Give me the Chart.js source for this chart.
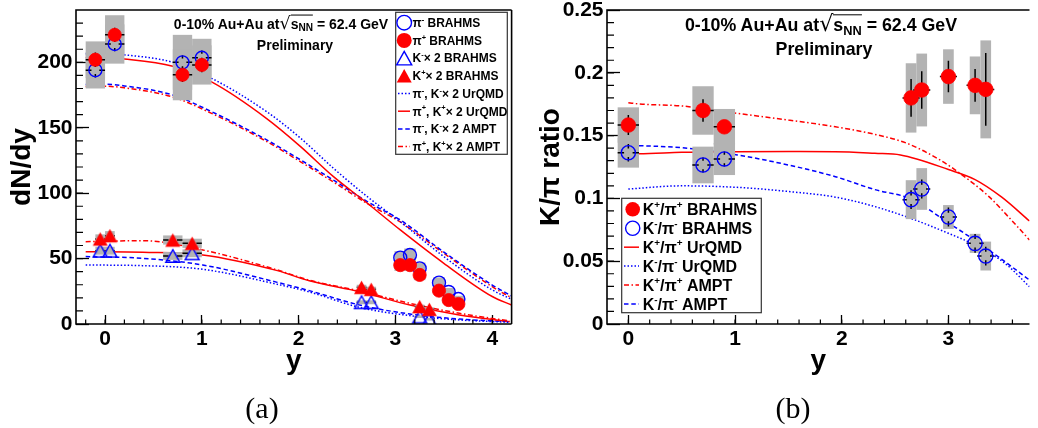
<!DOCTYPE html>
<html>
<head>
<meta charset="utf-8">
<title>BRAHMS dN/dy and K/pi</title>
<script src="https://cdn.jsdelivr.net/npm/chart.js@4.4.1/dist/chart.umd.min.js"></script>
<style>
 html,body{margin:0;padding:0;width:1038px;height:428px;overflow:hidden;background:#fff;}
 canvas{position:absolute;top:0;}
 #ca{left:0;} #cb{left:520px;}
 .t{position:absolute;transform:translate(-50%,-50%);white-space:nowrap;font-family:"Liberation Sans",Arial,Helvetica,sans-serif;font-weight:bold;line-height:1;color:#000;}
 .rad{font-family:"DejaVu Sans",sans-serif;font-weight:normal;font-size:1.25em;}
 .ov{border-top:1.5px solid #000;}
 .sb{font-size:0.72em;vertical-align:-0.28em;}
 .cap{position:absolute;transform:translate(-50%,-50%);font-family:"Liberation Serif","Times New Roman",serif;font-size:30px;line-height:1;color:#000;}
</style>
</head>
<body>
<canvas id="ca" width="520" height="428"></canvas>
<canvas id="cb" width="518" height="428"></canvas>
<div class="t" style="left:281px;top:24px;font-size:14px">0-10% Au+Au at<span class="rad">√</span><span class="ov">s<span class="sb">NN</span></span> = 62.4 GeV</div>
<div class="t" style="left:295px;top:45px;font-size:14px">Preliminary</div>
<div class="t" style="left:821px;top:25px;font-size:17.8px">0-10% Au+Au at<span class="rad">√</span><span class="ov">s<span class="sb">NN</span></span> = 62.4 GeV</div>
<div class="t" style="left:824px;top:50px;font-size:17.8px">Preliminary</div>
<div class="cap" style="left:262px;top:408px">(a)</div>
<div class="cap" style="left:793px;top:408px">(b)</div>
<script>
// ================= DATA: panel (a) dN/dy =================
const xTicksA = [0, 1, 2, 3, 4];
const yTicksA = [0, 50, 100, 150, 200];

const piRap      = [-0.1, 0.1, 0.8, 1.0, 3.05, 3.15, 3.25, 3.45, 3.55, 3.65];
const piMinusV   = [194, 214, 200, 203.5, 50.7, 52.7, 42.5, 31.6, 24.5, 19.1];
const piPlusV    = [202, 221, 190.5, 198, 45, 45, 37.5, 25.5, 18.3, 15.3];
const piStat     = [5.5, 5.5, 5.5, 5.5, 2, 2, 2, 2, 2, 2];
const piMinusSys = [14, 15, 21, 14.5, 5, 5, 4.5, 4, 3, 2.5];
const piPlusSys  = [14, 15, 19.5, 15, 4.5, 4.5, 4, 3, 2.5, 2];
const piEx       = [0.1, 0.1, 0.1, 0.1, 0.04, 0.04, 0.04, 0.04, 0.04, 0.04];
const piBoxW     = [0.1, 0.1, 0.1, 0.1, 0.06, 0.06, 0.06, 0.06, 0.06, 0.06];

const kRap       = [-0.05, 0.05, 0.7, 0.9, 2.65, 2.75, 3.25, 3.35];
const kMinus2V   = [56, 56, 52, 54, 16.6, 16.6, 5.6, 3.6];
const kPlus2V    = [65, 67.5, 64.2, 61.7, 28, 26.5, 13.3, 11.2];
const kStat      = [1.5, 1.5, 1.5, 1.5, 1, 1, 1, 1];
const kMinusSys  = [3, 3, 3, 3, 1.5, 1.5, 1, 1];
const kPlusSys   = [3.5, 3.5, 3.5, 3.5, 2, 2, 1.5, 1.5];
const kEx        = [0.05, 0.05, 0.1, 0.1, 0.05, 0.05, 0.05, 0.05];
const kBoxW      = [0.05, 0.05, 0.1, 0.1, 0.05, 0.05, 0.05, 0.05];

// model curves, pions
const piCurveRap     = [-0.2, 0, 0.2, 0.7, 1.1, 1.67, 2.02, 2.36, 2.71, 3.05, 3.5, 4.0, 4.2];
const piMinusUrqmd   = [206.5, 206.5, 205.7, 200, 187.8, 162.3, 142, 119, 97.3, 78.2, 51.5, 26, 18.9];
const piPlusUrqmd    = [203.5, 203.5, 202.6, 197, 185, 157, 135.6, 112.6, 92.3, 71.9, 46.4, 21, 14.5];
const piMinusAmpt    = [183, 183.2, 182, 175, 162.3, 140.7, 125.4, 110, 93.5, 79.5, 55, 29.8, 21.4];
const piPlusAmpt     = [181.5, 181.7, 180.5, 173.5, 161, 139.5, 124, 108.5, 92, 78, 54, 28.5, 20];
// model curves, kaons x 2
const kCurveRap      = [-0.2, 0.39, 1.01, 1.77, 2.11, 2.63, 3.15, 3.66, 4.18];
const kPlusAmpt      = [62.9, 63.7, 56.6, 41.5, 33.5, 25.2, 15.8, 8.2, 2.3];
const kPlusUrqmd     = [55.3, 54.8, 52.8, 41.0, 33.0, 24.7, 14.5, 6.9, 1.8];
const kMinusAmpt     = [51.5, 50.2, 45.1, 32.0, 25.5, 14.5, 7.6, 3.8, 1.8];
const kMinusUrqmd    = [45.1, 44.6, 41.8, 30.5, 24.5, 12.7, 6.4, 3.1, 1.3];

// ================= DATA: panel (b) K/pi =================
const xTicksB = [0, 1, 2, 3];
const yTicksB = [0, 0.05, 0.1, 0.15, 0.2, 0.25];

const rRap       = [0, 0.7, 0.9, 2.65, 2.75, 3.0, 3.25, 3.35];
const kpPiP      = [0.1584, 0.170, 0.157, 0.180, 0.1863, 0.197, 0.190, 0.1868];
const kpPiPStat  = [0.008, 0.009, 0.004, 0.015, 0.015, 0.0125, 0.013, 0.029];
const kpPiPSys   = [0.0141, 0.0193, 0.0142, 0.0276, 0.029, 0.0217, 0.023, 0.039];
const kmPiM      = [0.1364, 0.1266, 0.1314, 0.099, 0.1075, 0.0852, 0.0642, 0.0541];
const kmPiMStat  = [0.007, 0.006, 0.006, 0.0075, 0.0075, 0.0075, 0.0075, 0.0075];
const kmPiMSys   = [0.0119, 0.0146, 0.0128, 0.0155, 0.0166, 0.0095, 0.0076, 0.0115];
const rEx        = [0.1, 0.1, 0.1, 0.08, 0.08, 0.08, 0.08, 0.08];
const rBoxW      = [0.1, 0.1, 0.1, 0.05, 0.05, 0.05, 0.05, 0.05];

const kpUrqmdRap = [0, 0.1, 0.5, 1.02, 1.5, 1.94, 2.31, 2.55, 3.0, 3.25, 3.5, 3.76];
const kpUrqmd    = [0.1355, 0.1355, 0.1367, 0.1372, 0.1373, 0.1372, 0.1359, 0.1346, 0.123, 0.115, 0.101, 0.082];
const kpAmptRap  = [0, 0.1, 0.5, 1.02, 1.5, 1.94, 2.31, 2.61, 2.92, 3.13, 3.38, 3.59, 3.76];
const kpAmpt     = [0.1762, 0.1752, 0.1736, 0.1677, 0.1624, 0.157, 0.151, 0.1439, 0.1306, 0.1186, 0.1014, 0.0828, 0.0669];
const kmAmptRap  = [0.1, 0.5, 1.02, 1.5, 1.94, 2.31, 2.65, 3.0, 3.25, 3.5, 3.76];
const kmAmpt     = [0.142, 0.1404, 0.1346, 0.1266, 0.1173, 0.107, 0.0995, 0.0805, 0.0665, 0.0515, 0.035];
const kmUrqmdRap = [0, 0.5, 1.02, 1.5, 1.94, 2.31, 2.65, 3.0, 3.25, 3.53, 3.76];
const kmUrqmd    = [0.1075, 0.110, 0.1088, 0.1055, 0.101, 0.0935, 0.084, 0.0722, 0.0629, 0.0483, 0.0297];

// ================= STYLE =================
const FONT = '"Liberation Sans", Arial, Helvetica, sans-serif';
const BLUE = '#0000ff', RED = '#ff0000', GRAY = '#b3b3b3';
const DOT = [1.5, 2], DASH = [4.5, 2.8], DASHDOT = [5, 2.5, 1.5, 2.5];

const pts = (xs, vs) => xs.map((x, i) => ({x: x, y: vs[i]}));

// triangle marker image, bounding box centred on the point (ROOT style)
function triImage(w, filled, color) {
  const h = w * 0.9, pad = 2;
  const c = document.createElement('canvas');
  c.width = Math.ceil(w + pad * 2); c.height = Math.ceil(w + pad * 2);
  const g = c.getContext('2d');
  const cx = c.width / 2, cy = c.height / 2;
  g.beginPath();
  g.moveTo(cx, cy - h / 2); g.lineTo(cx + w / 2, cy + h / 2); g.lineTo(cx - w / 2, cy + h / 2); g.closePath();
  if (filled) { g.fillStyle = color; g.fill(); }
  else { g.strokeStyle = color; g.lineWidth = 1.4; g.stroke(); }
  return c;
}
const triOpenBlue = triImage(14, false, BLUE);
const triFillRed = triImage(15, true, RED);

function curve(label, xs, vs, color, dash, order) {
  return {label, data: pts(xs, vs), showLine: true, borderColor: color, backgroundColor: color,
    borderWidth: 1.5, borderDash: dash, pointRadius: 0, fill: false,
    cubicInterpolationMode: 'monotone', order};
}
function markers(label, xs, vs, style, filled, color, r, ex, ey, sys, bw, order) {
  return {label, data: pts(xs, vs), showLine: false, pointStyle: style, pointRadius: r,
    backgroundColor: filled ? color : 'rgba(0,0,0,0)', borderColor: color,
    borderWidth: filled ? 0.8 : 1.4, isMarker: true, ex, ey, sys, bw, order};
}

// ---------- plugins ----------
const boxesAndErrors = {
  id: 'boxesAndErrors',
  beforeDatasetsDraw(chart) { chart.$done = false; },
  beforeDatasetDraw(chart, args) {
    const ds = chart.data.datasets[args.index];
    if (!ds.isMarker || chart.$done) return;
    chart.$done = true;
    const {ctx, chartArea: a} = chart;
    const X = chart.scales.x, Y = chart.scales.y;
    ctx.save();
    ctx.beginPath(); ctx.rect(a.left, a.top, a.right - a.left, a.bottom - a.top); ctx.clip();
    ctx.fillStyle = GRAY;
    chart.data.datasets.forEach(d => {
      if (!d.isMarker) return;
      d.data.forEach((p, i) => {
        const x0 = X.getPixelForValue(p.x - d.bw[i]), x1 = X.getPixelForValue(p.x + d.bw[i]);
        const y0 = Y.getPixelForValue(p.y + d.sys[i]), y1 = Y.getPixelForValue(p.y - d.sys[i]);
        ctx.fillRect(x0, y0, x1 - x0, y1 - y0);
      });
    });
    ctx.strokeStyle = '#000'; ctx.lineWidth = 1.5;
    chart.data.datasets.forEach(d => {
      if (!d.isMarker) return;
      const gap = d.pointRadius * 0.6;
      d.data.forEach((p, i) => {
        const cx = X.getPixelForValue(p.x), cy = Y.getPixelForValue(p.y);
        const xl = X.getPixelForValue(p.x - d.ex[i]), xr = X.getPixelForValue(p.x + d.ex[i]);
        const yt = Y.getPixelForValue(p.y + d.ey[i]), yb = Y.getPixelForValue(p.y - d.ey[i]);
        ctx.beginPath();
        if (cx - xl > gap) { ctx.moveTo(xl, cy); ctx.lineTo(cx - gap, cy); ctx.moveTo(cx + gap, cy); ctx.lineTo(xr, cy); }
        if (yb - cy > gap) { ctx.moveTo(cx, yt); ctx.lineTo(cx, cy - gap); ctx.moveTo(cx, cy + gap); ctx.lineTo(cx, yb); }
        ctx.stroke();
      });
    });
    ctx.restore();
  }
};

function drawRich(ctx, x, yMid, segs, size) {
  let cx = x;
  const base = yMid + size * 0.36;
  ctx.textAlign = 'left'; ctx.textBaseline = 'alphabetic'; ctx.fillStyle = '#000';
  segs.forEach(s => {
    const sup = s[1] === 1;
    const fs = sup ? size * 0.62 : size;
    ctx.font = 'bold ' + fs + 'px ' + FONT;
    ctx.fillText(s[0], cx, sup ? base - size * 0.42 : base);
    cx += ctx.measureText(s[0]).width;
  });
}

function drawMarker(ctx, style, filled, color, x, y, r) {
  ctx.save();
  ctx.beginPath();
  if (style === 'circle') ctx.arc(x, y, r, 0, Math.PI * 2);
  else { const w = 2 * r, h = w * 0.9; ctx.moveTo(x, y - h / 2); ctx.lineTo(x + w / 2, y + h / 2); ctx.lineTo(x - w / 2, y + h / 2); ctx.closePath(); }
  if (filled) { ctx.fillStyle = color; ctx.fill(); }
  else { ctx.strokeStyle = color; ctx.lineWidth = 1.4; ctx.stroke(); }
  ctx.restore();
}

function framePlugin(drawRight, minorX, minorY, legend) {
  return {
    id: 'frame',
    afterDraw(chart) {
      const {ctx, chartArea: a} = chart;
      const X = chart.scales.x, Y = chart.scales.y;
      ctx.save();
      // minor ticks
      ctx.strokeStyle = '#000'; ctx.lineWidth = 1.2;
      ctx.beginPath();
      minorX.forEach(v => { const px = X.getPixelForValue(v); if (px > a.left + 1 && px < a.right - 1) { ctx.moveTo(px, a.bottom); ctx.lineTo(px, a.bottom - 4.5); } });
      minorY.forEach(v => { const py = Y.getPixelForValue(v); if (py > a.top + 1 && py < a.bottom - 1) { ctx.moveTo(a.left, py); ctx.lineTo(a.left + 7, py); } });
      ctx.stroke();
      // frame
      ctx.lineWidth = 1.6;
      ctx.beginPath();
      ctx.moveTo(a.right, a.top); ctx.lineTo(a.left, a.top); ctx.lineTo(a.left, a.bottom); ctx.lineTo(a.right, a.bottom);
      if (drawRight) { ctx.moveTo(a.right, a.top); ctx.lineTo(a.right, a.bottom); }
      ctx.stroke();
      // legend
      const L = legend;
      ctx.fillStyle = '#fff';
      ctx.fillRect(L.x, L.y, L.w, L.h);
      ctx.strokeStyle = '#333'; ctx.lineWidth = 1.2;
      ctx.strokeRect(L.x, L.y, L.w, L.h);
      L.entries.forEach((e, i) => {
        const yy = L.row0 + i * L.dy;
        if (e.line) {
          ctx.save();
          ctx.strokeStyle = e.color; ctx.lineWidth = 1.5; ctx.setLineDash(e.dash);
          ctx.beginPath(); ctx.moveTo(L.lx0, yy); ctx.lineTo(L.lx1, yy); ctx.stroke();
          ctx.restore();
        } else {
          drawMarker(ctx, e.mk, e.filled, e.color, L.mx, yy, e.r);
        }
        drawRich(ctx, L.tx, yy, e.text, L.font);
      });
      ctx.restore();
    }
  };
}

function xAxis(min, max, majors, fitH) {
  return {
    type: 'linear', min, max,
    afterBuildTicks: s => { s.ticks = majors.map(v => ({value: v})); },
    afterFit: s => { s.height = fitH; s.paddingLeft = 0; s.paddingRight = 0; },
    ticks: {color: '#000', font: {family: FONT, size: 21, weight: 'bold'}, padding: 11.4, maxRotation: 0, autoSkip: false, callback: v => String(v)},
    grid: {drawOnChartArea: false, tickLength: -9, tickColor: '#000', tickWidth: 1.3},
    border: {display: false},
    title: {display: true, text: 'y', color: '#000', font: {family: FONT, size: 28, weight: 'bold'}, padding: {top: 0, bottom: 50}}
  };
}
function yAxis(min, max, majors, fitW, title, titlePad) {
  return {
    type: 'linear', min, max,
    afterBuildTicks: s => { s.ticks = majors.map(v => ({value: v})); },
    afterFit: s => { s.width = fitW; s.paddingTop = 0; s.paddingBottom = 0; },
    ticks: {color: '#000', font: {family: FONT, size: 21, weight: 'bold'}, padding: 16.5, autoSkip: false, callback: v => String(v)},
    grid: {drawOnChartArea: false, tickLength: -13, tickColor: '#000', tickWidth: 1.3},
    border: {display: false},
    title: {display: true, text: title, color: '#000', font: {family: FONT, size: 28, weight: 'bold'}, padding: {top: titlePad, bottom: 0}}
  };
}

function steps(a, b, s) { const r = []; for (let v = a; v <= b + 1e-9; v += s) r.push(Math.round(v * 1000) / 1000); return r; }

// ================= Chart (a) =================
const legendA = {
  x: 395.7, y: 12.3, w: 111.6, h: 142, row0: 22.7, dy: 17.7, mx: 404.2, tx: 412.5, lx0: 398, lx1: 410, font: 12,
  entries: [
    {mk: 'circle', filled: false, color: BLUE, r: 7.3, text: [['π'], ['-', 1], [' BRAHMS']]},
    {mk: 'circle', filled: true, color: RED, r: 7.5, text: [['π'], ['+', 1], [' BRAHMS']]},
    {mk: 'triangle', filled: false, color: BLUE, r: 7.5, text: [['K'], ['-', 1], ['× 2 BRAHMS']]},
    {mk: 'triangle', filled: true, color: RED, r: 7.5, text: [['K'], ['+', 1], ['× 2 BRAHMS']]},
    {line: true, color: BLUE, dash: DOT, text: [['π'], ['-', 1], [', K'], ['-', 1], ['× 2 UrQMD']]},
    {line: true, color: RED, dash: [], text: [['π'], ['+', 1], [', K'], ['+', 1], ['× 2 UrQMD']]},
    {line: true, color: BLUE, dash: DASH, text: [['π'], ['-', 1], [', K'], ['-', 1], ['× 2 AMPT']]},
    {line: true, color: RED, dash: DASHDOT, text: [['π'], ['+', 1], [', K'], ['+', 1], ['× 2 AMPT']]}
  ]
};

new Chart(document.getElementById('ca'), {
  type: 'scatter',
  data: {datasets: [
    curve('π-, K-×2 UrQMD', piCurveRap, piMinusUrqmd, BLUE, DOT, 10),
    curve('π+, K+×2 UrQMD', piCurveRap, piPlusUrqmd, RED, [], 11),
    curve('π-, K-×2 AMPT', piCurveRap, piMinusAmpt, BLUE, DASH, 12),
    curve('π+, K+×2 AMPT', piCurveRap, piPlusAmpt, RED, DASHDOT, 13),
    curve('K-×2 UrQMD', kCurveRap, kMinusUrqmd, BLUE, DOT, 14),
    curve('K+×2 UrQMD', kCurveRap, kPlusUrqmd, RED, [], 15),
    curve('K-×2 AMPT', kCurveRap, kMinusAmpt, BLUE, DASH, 16),
    curve('K+×2 AMPT', kCurveRap, kPlusAmpt, RED, DASHDOT, 17),
    markers('π- BRAHMS', piRap, piMinusV, 'circle', false, BLUE, 6.5, piEx, piStat, piMinusSys, piBoxW, 2),
    markers('π+ BRAHMS', piRap, piPlusV, 'circle', true, RED, 6.6, piEx, piStat, piPlusSys, piBoxW, 0),
    markers('K-×2 BRAHMS', kRap, kMinus2V, triOpenBlue, false, BLUE, 7, kEx, kStat, kMinusSys, kBoxW, 3),
    markers('K+×2 BRAHMS', kRap, kPlus2V, triFillRed, true, RED, 7, kEx, kStat, kPlusSys, kBoxW, 1)
  ]},
  options: {
    responsive: false, animation: false, events: [],
    layout: {padding: {left: 0, right: 8, top: 10, bottom: 0}},
    plugins: {legend: {display: false}, tooltip: {enabled: false}},
    scales: {
      x: xAxis(-0.3, 4.2, xTicksA, 104),
      y: yAxis(0, 240, yTicksA, 76, 'dN/dy', 5)
    }
  },
  plugins: [boxesAndErrors, framePlugin(true, steps(-0.2, 4.2, 0.2), steps(0, 240, 10), legendA)]
});

// ================= Chart (b) =================
const legendB = {
  x: 101.7, y: 198.3, w: 139.6, h: 114.4, row0: 209.3, dy: 18.94, mx: 112.7, tx: 122.7, lx0: 104, lx1: 119, font: 16,
  entries: [
    {mk: 'circle', filled: true, color: RED, r: 7.3, text: [['K'], ['+', 1], ['/π'], ['+', 1], [' BRAHMS']]},
    {mk: 'circle', filled: false, color: BLUE, r: 7.1, text: [['K'], ['-', 1], ['/π'], ['-', 1], [' BRAHMS']]},
    {line: true, color: RED, dash: [], text: [['K'], ['+', 1], ['/π'], ['+', 1], [' UrQMD']]},
    {line: true, color: BLUE, dash: DOT, text: [['K'], ['-', 1], ['/π'], ['-', 1], [' UrQMD']]},
    {line: true, color: RED, dash: DASHDOT, text: [['K'], ['+', 1], ['/π'], ['+', 1], [' AMPT']]},
    {line: true, color: BLUE, dash: DASH, text: [['K'], ['-', 1], ['/π'], ['-', 1], [' AMPT']]}
  ]
};

new Chart(document.getElementById('cb'), {
  type: 'scatter',
  data: {datasets: [
    curve('K+/π+ UrQMD', kpUrqmdRap, kpUrqmd, RED, [], 10),
    curve('K-/π- UrQMD', kmUrqmdRap, kmUrqmd, BLUE, DOT, 11),
    curve('K+/π+ AMPT', kpAmptRap, kpAmpt, RED, DASHDOT, 12),
    curve('K-/π- AMPT', kmAmptRap, kmAmpt, BLUE, DASH, 13),
    markers('K-/π- BRAHMS', rRap, kmPiM, 'circle', false, BLUE, 7.1, rEx, kmPiMStat, kmPiMSys, rBoxW, 1),
    markers('K+/π+ BRAHMS', rRap, kpPiP, 'circle', true, RED, 7.3, rEx, kpPiPStat, kpPiPSys, rBoxW, 0)
  ]},
  options: {
    responsive: false, animation: false, events: [],
    layout: {padding: {left: 0, right: 0, top: 10, bottom: 0}},
    plugins: {legend: {display: false}, tooltip: {enabled: false}},
    scales: {
      x: xAxis(-0.2, 3.76, xTicksB, 104),
      y: yAxis(0, 0.25, yTicksB, 87, 'K/π ratio', 14)
    }
  },
  plugins: [boxesAndErrors, framePlugin(false, steps(-0.2, 3.8, 0.2), steps(0, 0.25, 0.01), legendB)]
});
</script>
</body>
</html>
